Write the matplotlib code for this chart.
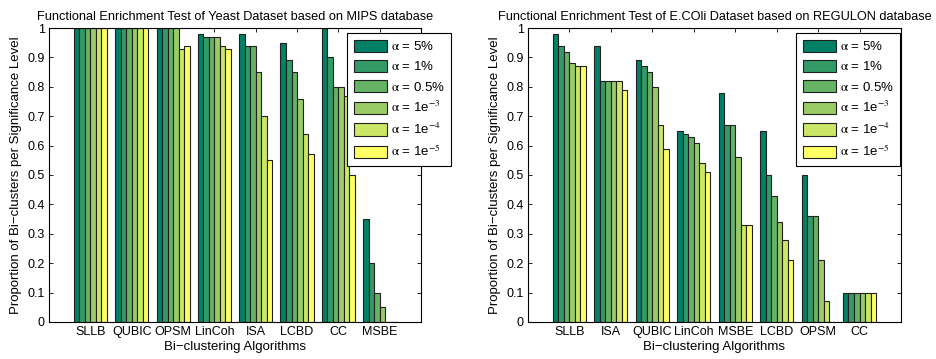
import matplotlib
matplotlib.use("Agg")
import matplotlib.pyplot as plt
import numpy as np

plt.rcParams['font.family'] = ['Liberation Sans', 'DejaVu Sans']
plt.rcParams['mathtext.fontset'] = 'stix'

legend_labels = [r'$\mathrm{\alpha}$ = 5%', r'$\mathrm{\alpha}$ = 1%', r'$\mathrm{\alpha}$ = 0.5%',
                 r'$\mathrm{\alpha}$ = 1e$^{-3}$', r'$\mathrm{\alpha}$ = 1e$^{-4}$', r'$\mathrm{\alpha}$ = 1e$^{-5}$']

yeast_title = "Functional Enrichment Test of Yeast Dataset based on MIPS database"
yeast_algos = ["SLLB", "QUBIC", "OPSM", "LinCoh", "ISA", "LCBD", "CC", "MSBE"]
yeast_vals = [
    [1.00, 1.00, 1.00, 1.00, 1.00, 1.00],
    [1.00, 1.00, 1.00, 1.00, 1.00, 1.00],
    [1.00, 1.00, 1.00, 1.00, 0.93, 0.94],
    [0.98, 0.97, 0.97, 0.97, 0.94, 0.93],
    [0.98, 0.94, 0.94, 0.85, 0.70, 0.55],
    [0.95, 0.89, 0.85, 0.76, 0.64, 0.57],
    [1.00, 0.90, 0.80, 0.80, 0.77, 0.50],
    [0.35, 0.20, 0.10, 0.05, 0.00, 0.00],
]

ecoli_title = "Functional Enrichment Test of E.COli Dataset based on REGULON database"
ecoli_algos = ["SLLB", "ISA", "QUBIC", "LinCoh", "MSBE", "LCBD", "OPSM", "CC"]
ecoli_vals = [
    [0.98, 0.94, 0.92, 0.88, 0.87, 0.87],
    [0.94, 0.82, 0.82, 0.82, 0.82, 0.79],
    [0.89, 0.87, 0.85, 0.80, 0.67, 0.59],
    [0.65, 0.64, 0.63, 0.61, 0.54, 0.51],
    [0.78, 0.67, 0.67, 0.56, 0.33, 0.33],
    [0.65, 0.50, 0.43, 0.34, 0.28, 0.21],
    [0.50, 0.36, 0.36, 0.21, 0.07, 0.00],
    [0.10, 0.10, 0.10, 0.10, 0.10, 0.10],
]

colors = [(0.0, 0.5, 0.4), (0.2, 0.6, 0.4), (0.4, 0.7, 0.4),
          (0.6, 0.8, 0.4), (0.8, 0.9, 0.4), (1.0, 1.0, 0.4)]

fig = plt.figure(figsize=(9.36, 3.59), dpi=100)
ax1 = fig.add_axes([0.0524, 0.1031, 0.3974, 0.8189])
ax2 = fig.add_axes([0.5641, 0.1031, 0.3985, 0.8189])

def draw(ax, title, algos, vals, leg_x):
    vals = np.array(vals)
    n = vals.shape[1]
    x = np.arange(1, len(algos) + 1)
    w = 0.8 / n
    for j in range(n):
        ax.bar(x - 0.4 + w * (j + 0.5), vals[:, j], width=w, color=colors[j],
               edgecolor='#202020', linewidth=0.8, label=legend_labels[j], zorder=2)
    ax.set_xlim(0, 9)
    ax.set_ylim(0, 1)
    ax.set_xticks(x)
    ax.set_xticklabels(algos, fontsize=9)
    ax.set_yticks(np.arange(0, 1.01, 0.1))
    ax.set_yticklabels(["0"] + ["%.1f" % v for v in np.arange(0.1, 0.95, 0.1)] + ["1"], fontsize=9)
    ax.tick_params(direction='in', top=True, right=True, length=3, width=0.6, pad=3)
    for s in ax.spines.values():
        s.set_linewidth(0.8)
    ax.set_title(title, fontsize=9.2, pad=6)
    ax.set_xlabel("Bi\u2212clustering Algorithms", fontsize=9.5, labelpad=2)
    ax.set_ylabel("Proportion of Bi\u2212clusters per Significance Level", fontsize=9.5, labelpad=4)
    leg = ax.legend(loc='upper left', bbox_to_anchor=(leg_x, 0.983), borderaxespad=0,
                    fancybox=False, framealpha=1, edgecolor='black', fontsize=9.5,
                    handlelength=2.5, handleheight=1.05, labelspacing=0.5,
                    handletextpad=0.3, borderpad=0.5)
    leg.get_frame().set_linewidth(0.8)
    leg.set_zorder(5)
    leg.set_clip_on(False)

draw(ax1, yeast_title, yeast_algos, yeast_vals, 0.801)
draw(ax2, ecoli_title, ecoli_algos, ecoli_vals, 0.7185)

fig.savefig("out.png", dpi=100)
